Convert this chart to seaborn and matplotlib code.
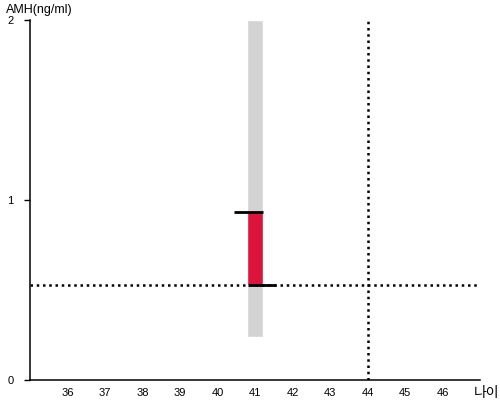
import matplotlib
matplotlib.use("Agg")
import matplotlib.pyplot as plt
import seaborn as sns

# data
age = 41
range_low, range_high = 0.24, 2.0      # grey range bar
value_low, value_high = 0.53, 0.935    # red bar
top_cap = (40.45, 41.2)                # black marker at value_high
bottom_cap = (40.8, 41.55)             # black marker at value_low
ref_amh = 0.53
ref_age = 44
x_ticks = list(range(36, 47))
y_ticks = [0, 1, 2]

sns.set_style("ticks")
plt.rcParams['font.family'] = ['Liberation Sans', 'Noto Sans CJK KR', 'DejaVu Sans']
plt.rcParams['text.color'] = 'black'
plt.rcParams['xtick.color'] = 'black'
plt.rcParams['ytick.color'] = 'black'

fig = plt.figure(figsize=(5, 4), dpi=100)
ax = fig.add_axes([0.06, 0.05, 0.90, 0.90])

bw = 0.43
ax.bar([age], [range_high - range_low], bottom=[range_low], width=bw,
       color="#d3d3d3", zorder=1)
ax.bar([age], [value_high - value_low], bottom=[value_low], width=bw,
       color="#dc143c", zorder=2)
ax.hlines(value_high, *top_cap, color="black", lw=2, zorder=3)
ax.hlines(value_low, *bottom_cap, color="black", lw=2, zorder=3)

ax.axhline(ref_amh, color="black", ls=(0, (1, 1.5)), lw=1.8, zorder=2.5)
ax.axvline(ref_age, color="black", ls=(0, (1, 1.5)), lw=1.8, zorder=2.5)

ax.set_xlim(35, 47)
ax.set_ylim(0, 2)
ax.set_xticks(x_ticks)
ax.set_yticks(y_ticks)
ax.tick_params(axis="x", length=0, labelsize=8, pad=6, labelcolor="black")
ax.tick_params(axis="y", length=4, width=1, labelsize=8, pad=8, labelcolor="black")
sns.despine(ax=ax)
for s in ("left", "bottom"):
    ax.spines[s].set_color("black")
    ax.spines[s].set_linewidth(1.1)

fig.text(0.012, 0.975, "AMH(ng/ml)", fontsize=9, va="center", ha="left", color="black")
fig.text(0.948, 0.017, "나이", fontsize=10, va="center", ha="left", color="black")

fig.savefig("out.png", dpi=100)
